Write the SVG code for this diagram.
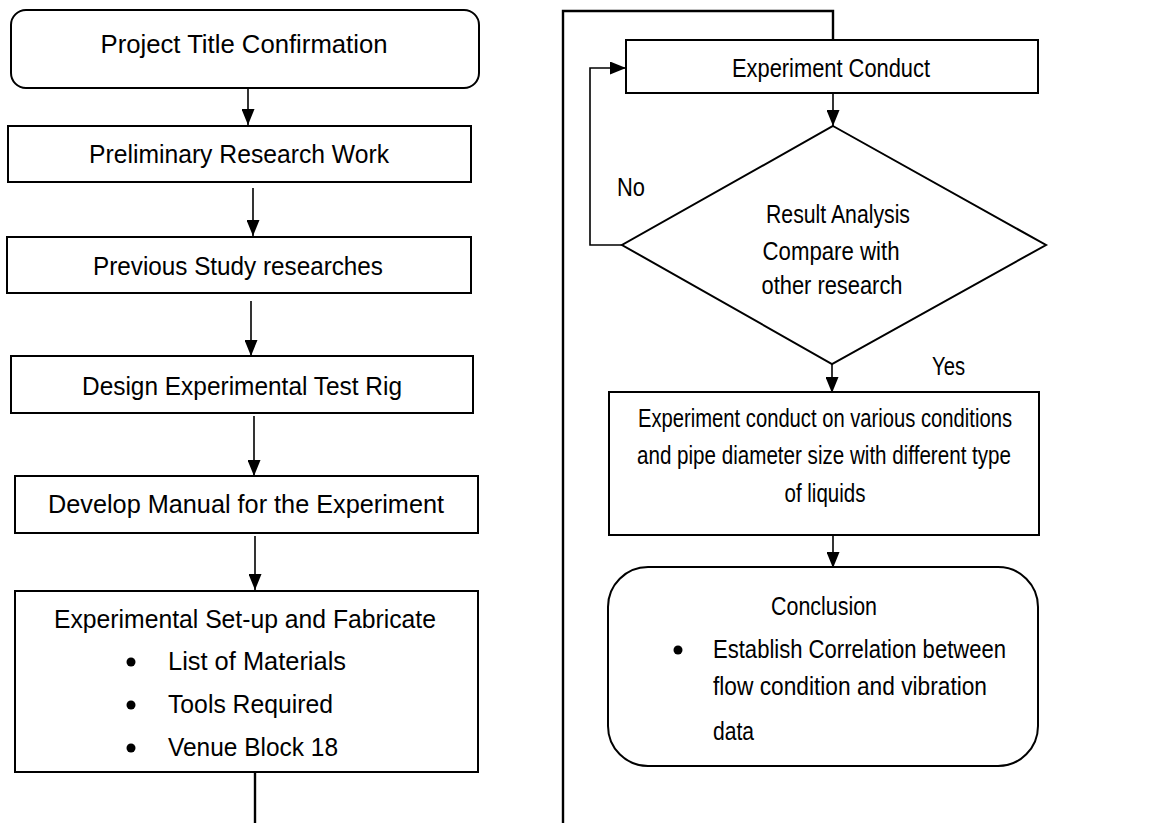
<svg xmlns="http://www.w3.org/2000/svg" width="1168" height="823" viewBox="0 0 1168 823">
  <defs>
    <marker id="arrow" markerWidth="16" markerHeight="13" refX="16" refY="6.5" orient="auto" markerUnits="userSpaceOnUse">
      <path d="M0,0 L16,6.5 L0,13 Z" fill="#000"/>
    </marker>
    <style>
      .box { fill: #fff; stroke: #000; stroke-width: 2; }
      .edge { fill: none; stroke: #000; stroke-width: 1.6; }
      .bus { fill: none; stroke: #000; stroke-width: 2.4; }
      text { font-family: "Liberation Sans", Arial, sans-serif; font-size: 26px; fill: #000; }
      .r { font-size: 25.5px; }
      .c { text-anchor: middle; }
    </style>
  </defs>
  <rect width="1168" height="823" fill="#fff"/>

  <!-- connectors -->
  <g id="connectors">
    <line class="edge" x1="248" y1="88" x2="248" y2="125" marker-end="url(#arrow)"/>
    <line class="edge" x1="253" y1="188" x2="253" y2="236" marker-end="url(#arrow)"/>
    <line class="edge" x1="251" y1="301" x2="251" y2="356" marker-end="url(#arrow)"/>
    <line class="edge" x1="254" y1="416" x2="254" y2="476" marker-end="url(#arrow)"/>
    <line class="edge" x1="255" y1="536" x2="255" y2="590" marker-end="url(#arrow)"/>
    <!-- continuation to the right-hand column -->
    <line class="bus" x1="255" y1="772" x2="255" y2="823"/>
    <polyline class="bus" points="563,823 563,11 833,11 833,40"/>
    <line class="edge" x1="833" y1="93" x2="833" y2="126" marker-end="url(#arrow)"/>
    <!-- No loop back -->
    <polyline class="edge" points="622,245 590,245 590,68 626,68" marker-end="url(#arrow)"/>
    <line class="edge" x1="832" y1="364" x2="832" y2="393" marker-end="url(#arrow)"/>
    <line class="edge" x1="833" y1="535" x2="833" y2="568" marker-end="url(#arrow)"/>
  </g>

  <!-- left column -->
  <g id="title">
    <rect class="box" x="11" y="10" width="468" height="78" rx="15" ry="15"/>
    <text class="c" x="244" y="53" textLength="287" lengthAdjust="spacingAndGlyphs">Project Title Confirmation</text>
  </g>
  <g id="preliminary">
    <rect class="box" x="8" y="126" width="463" height="56"/>
    <text class="c" x="239" y="163" textLength="300" lengthAdjust="spacingAndGlyphs">Preliminary Research Work</text>
  </g>
  <g id="previous">
    <rect class="box" x="7" y="237" width="464" height="56"/>
    <text class="c" x="238" y="275" textLength="290" lengthAdjust="spacingAndGlyphs">Previous Study researches</text>
  </g>
  <g id="design">
    <rect class="box" x="11" y="356" width="462" height="57"/>
    <text class="c" x="242" y="395" textLength="320" lengthAdjust="spacingAndGlyphs">Design Experimental Test Rig</text>
  </g>
  <g id="manual">
    <rect class="box" x="15" y="476" width="463" height="57"/>
    <text class="c" x="246" y="513" textLength="396" lengthAdjust="spacingAndGlyphs">Develop Manual for the Experiment</text>
  </g>
  <g id="setup">
    <rect class="box" x="15" y="591" width="463" height="181"/>
    <text class="c" x="245" y="628" textLength="382" lengthAdjust="spacingAndGlyphs">Experimental Set-up and Fabricate</text>
    <circle cx="131" cy="662" r="4.5"/>
    <text x="168" y="670" textLength="178" lengthAdjust="spacingAndGlyphs">List of Materials</text>
    <circle cx="131" cy="705" r="4.5"/>
    <text x="168" y="713" textLength="165" lengthAdjust="spacingAndGlyphs">Tools Required</text>
    <circle cx="131" cy="748" r="4.5"/>
    <text x="168" y="756" textLength="170" lengthAdjust="spacingAndGlyphs">Venue Block 18</text>
  </g>

  <!-- right column -->
  <g id="conduct">
    <rect class="box" x="626" y="40" width="412" height="53"/>
    <text class="c r" x="831" y="77" textLength="198" lengthAdjust="spacingAndGlyphs">Experiment Conduct</text>
  </g>
  <g id="analysis">
    <polygon class="box" points="833,126 1046,245 832,364 622,245"/>
    <text class="c r" x="838" y="223" textLength="144" lengthAdjust="spacingAndGlyphs">Result Analysis</text>
    <text class="c r" x="831" y="260" textLength="137" lengthAdjust="spacingAndGlyphs">Compare with</text>
    <text class="c r" x="832" y="294" textLength="141" lengthAdjust="spacingAndGlyphs">other research</text>
  </g>
  <text class="r" x="617" y="196" textLength="28" lengthAdjust="spacingAndGlyphs">No</text>
  <text class="r" x="932" y="375" textLength="33" lengthAdjust="spacingAndGlyphs">Yes</text>
  <g id="various">
    <rect class="box" x="609" y="392" width="430" height="143"/>
    <text class="c r" x="825" y="427" textLength="374" lengthAdjust="spacingAndGlyphs">Experiment conduct on various conditions</text>
    <text class="c r" x="824" y="464" textLength="374" lengthAdjust="spacingAndGlyphs">and pipe diameter size with different type</text>
    <text class="c r" x="825" y="502" textLength="81" lengthAdjust="spacingAndGlyphs">of liquids</text>
  </g>
  <g id="conclusion">
    <rect class="box" x="608" y="567" width="430" height="199" rx="40" ry="40"/>
    <text class="c r" x="824" y="615" textLength="106" lengthAdjust="spacingAndGlyphs">Conclusion</text>
    <circle cx="678" cy="650" r="4.5"/>
    <text class="r" x="713" y="658" textLength="293" lengthAdjust="spacingAndGlyphs">Establish Correlation between</text>
    <text class="r" x="713" y="695" textLength="274" lengthAdjust="spacingAndGlyphs">flow condition and vibration</text>
    <text class="r" x="713" y="740" textLength="41" lengthAdjust="spacingAndGlyphs">data</text>
  </g>
</svg>
